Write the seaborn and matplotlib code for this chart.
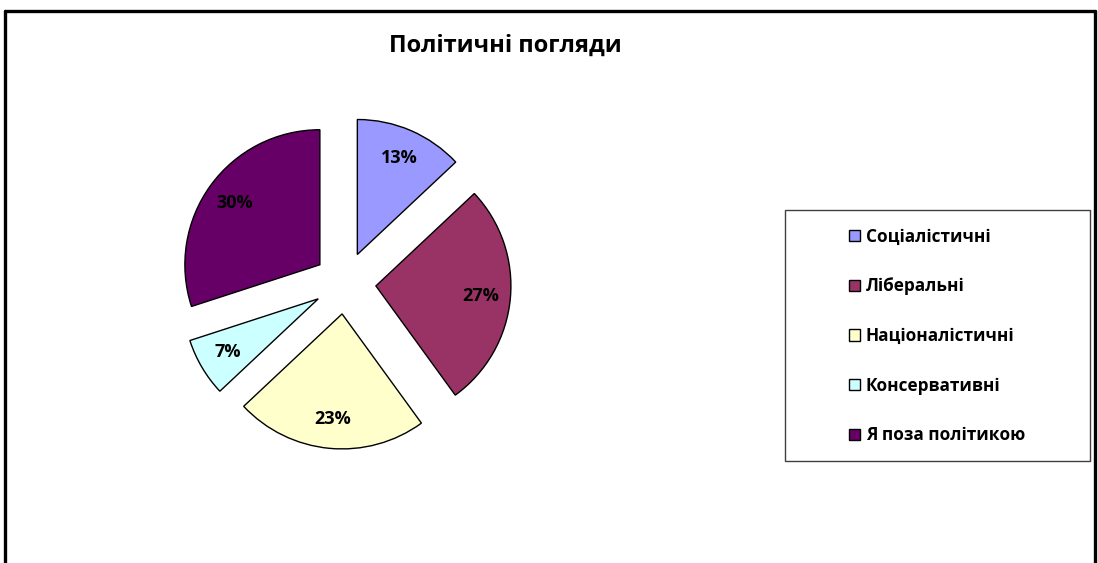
import matplotlib
matplotlib.use("Agg")
import matplotlib.pyplot as plt
from matplotlib.lines import Line2D
from matplotlib.patches import Rectangle, Patch
import seaborn as sns

sns.set_theme(style="white")
plt.rcParams["font.family"] = ["Open Sans", "DejaVu Sans"]
plt.rcParams["text.color"] = "black"

categories = ["Соціалістичні", "Ліберальні", "Націоналістичні", "Консервативні", "Я поза політикою"]
shares = [13, 27, 23, 7, 30]
colors = ["#9999FF", "#993366", "#FFFFCC", "#CCFFFF", "#660066"]
title = "Політичні погляди"

W, H = 1098, 563
cx, cy, r = 345, 283, 135

fig = plt.figure(figsize=(W / 100, H / 100), dpi=100)
ax = fig.add_axes([0, 0, 1, 1])
ax.axis("off")

wedges, texts, autotexts = ax.pie(
    shares, colors=colors, startangle=90, counterclock=False,
    explode=[0.23] * len(shares), autopct="%1.0f%%", pctdistance=0.78,
    wedgeprops=dict(edgecolor="black", linewidth=1.0),
    textprops=dict(fontsize=13, fontweight="bold", color="black"),
    radius=1, center=(0, 0), frame=False,
)
ax.set_xlim(-cx / r, (W - cx) / r)
ax.set_ylim(-(H - cy) / r, cy / r)
ax.set_aspect("equal", adjustable="datalim")

fig.text(505 / W, 1 - 46 / H, title, ha="center", va="center",
         fontsize=17, fontweight="bold", color="black")

# legend box
fig.add_artist(Rectangle((785 / W, 1 - 461 / H), 305 / W, 251 / H,
                         transform=fig.transFigure, facecolor="white",
                         edgecolor="#404040", linewidth=1.0))
handles = [Patch(facecolor=c, edgecolor="black", linewidth=1.0) for c in colors]
leg = fig.legend(handles, categories, loc="center left",
                 bbox_to_anchor=(840 / W, 1 - 336 / H), frameon=False,
                 prop=dict(size=12.4, weight="bold"), handlelength=0.65,
                 handleheight=0.65, handletextpad=0.35, labelspacing=1.84,
                 borderpad=0, labelcolor="black")

# outer frame (bottom edge cut off)
for xs, ys in [([4.5, 4.5], [H, 11]), ([4.5, 1094.5], [11, 11]), ([1094.5, 1094.5], [11, H])]:
    fig.add_artist(Line2D([x / W for x in xs], [1 - y / H for y in ys],
                          transform=fig.transFigure, color="black", linewidth=2.4))

fig.savefig("out.png", dpi=100)
